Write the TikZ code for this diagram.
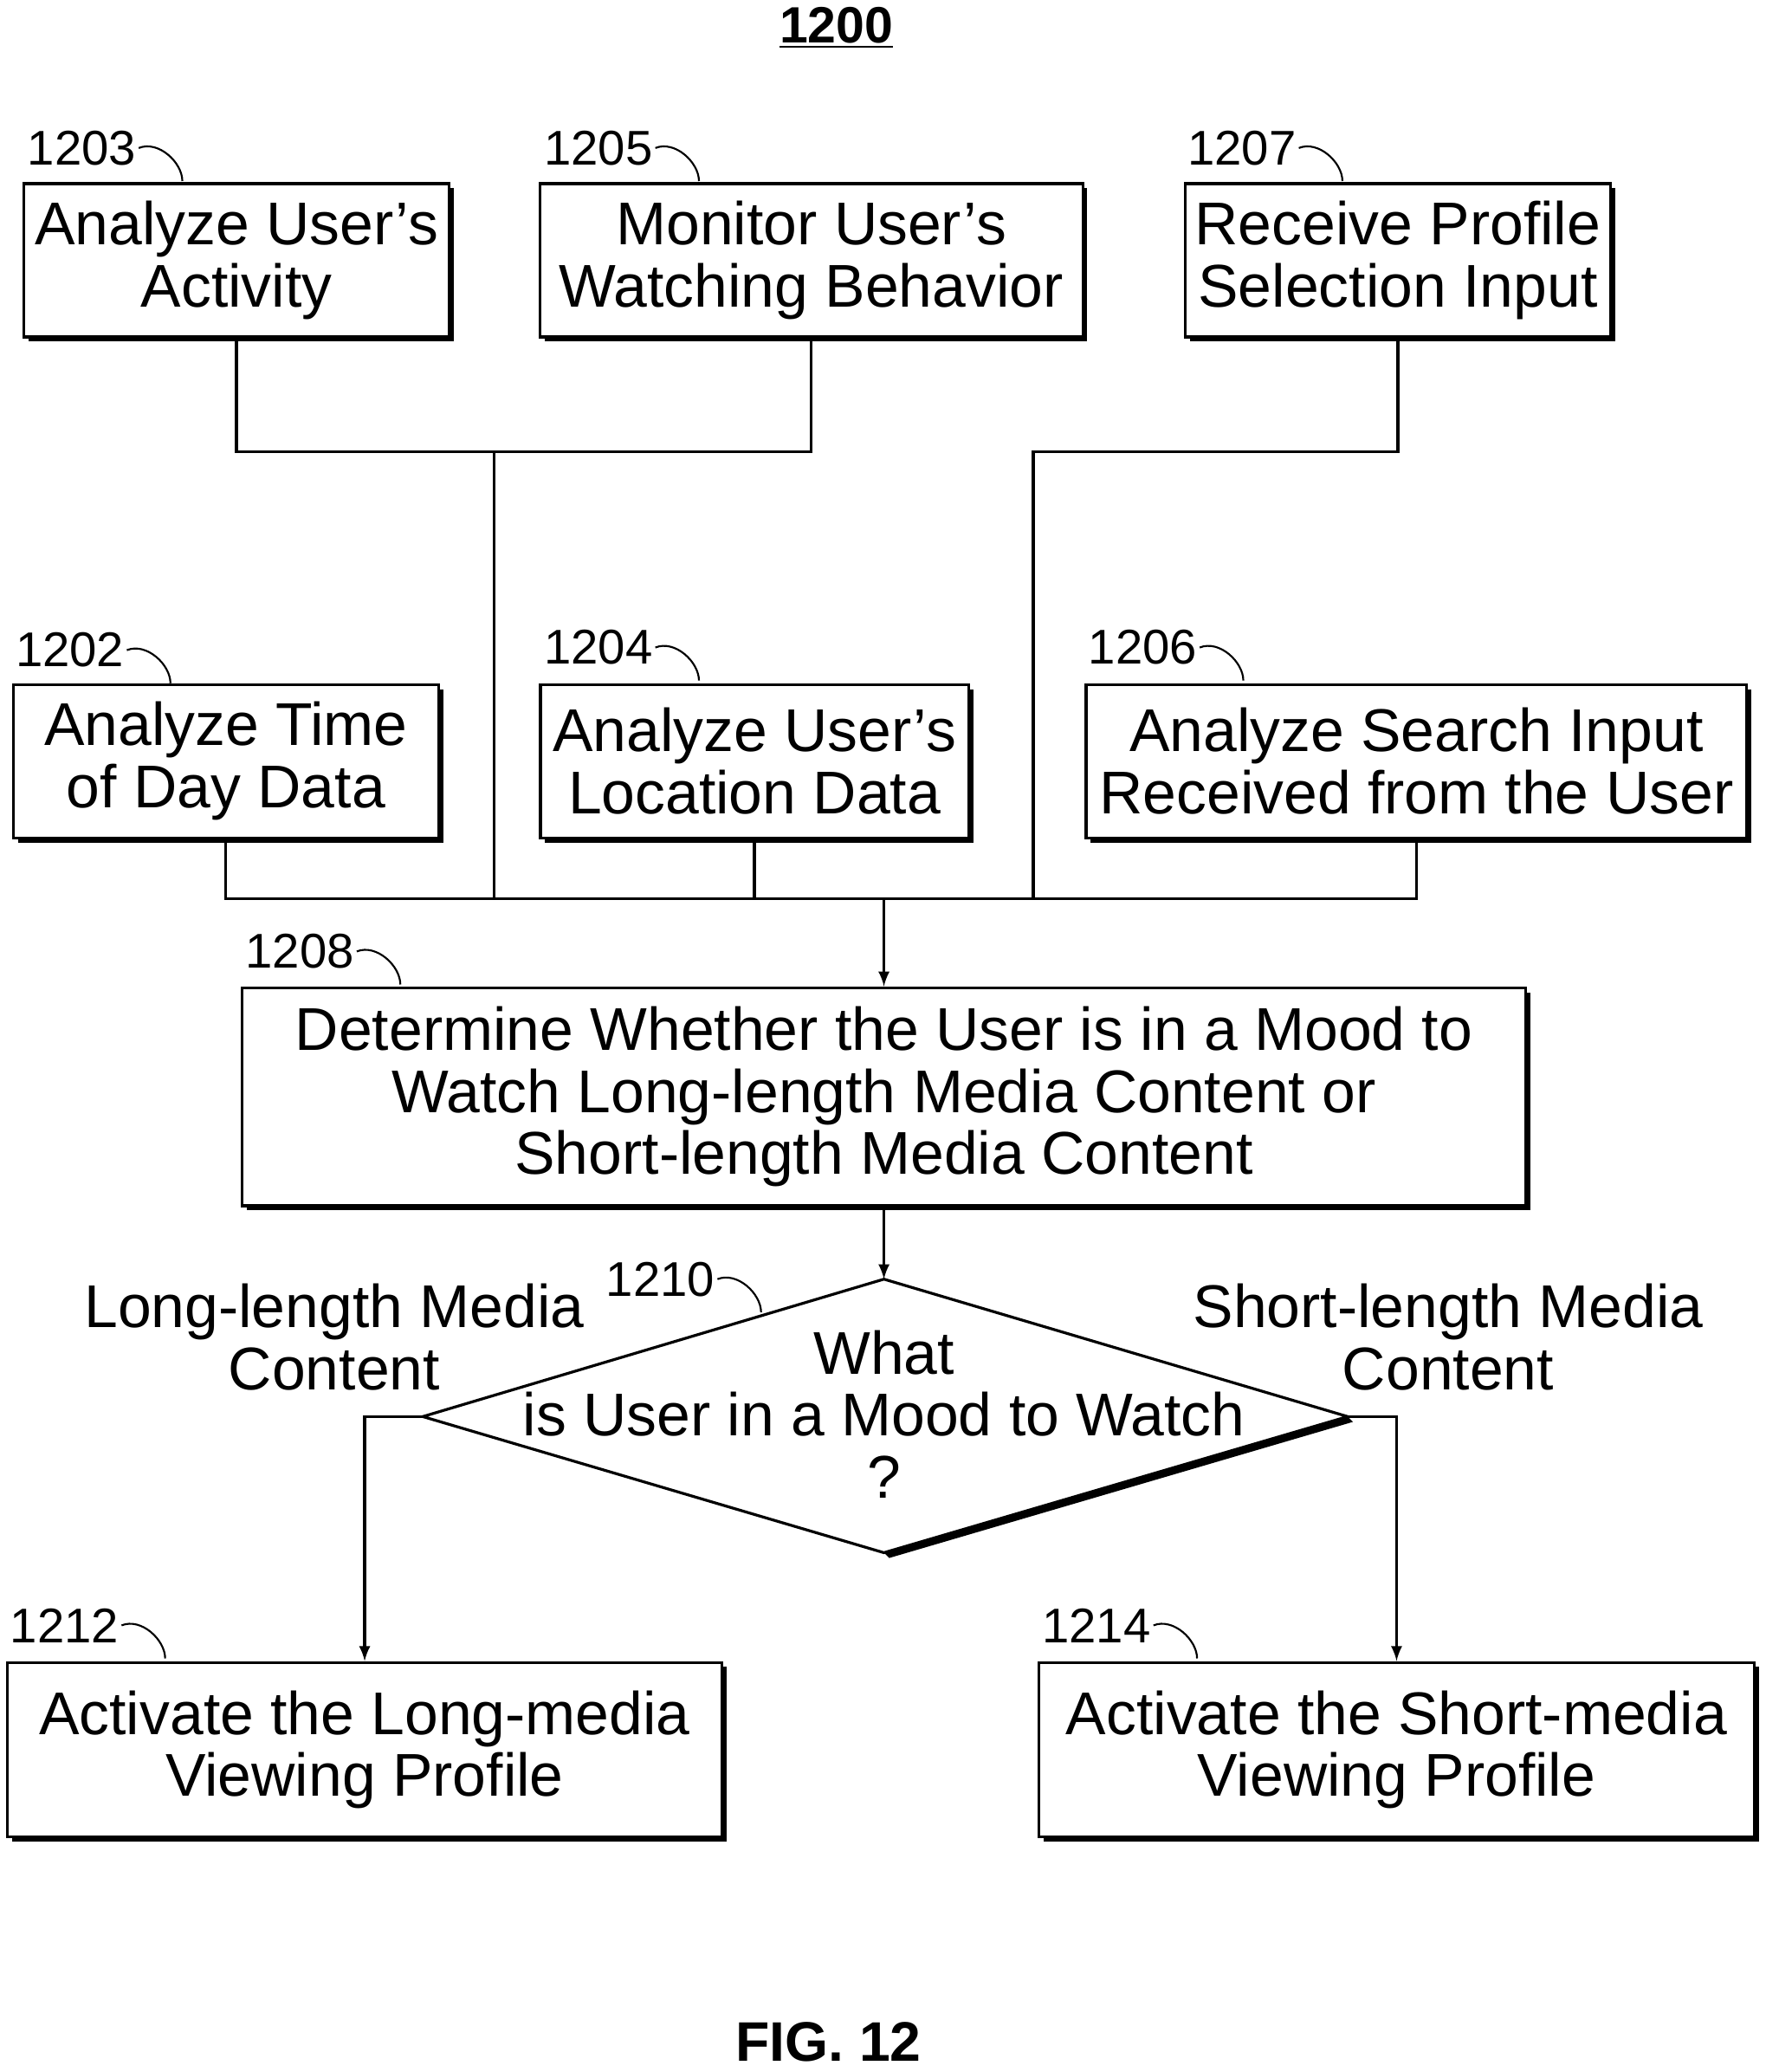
\documentclass[tikz,border=0pt]{standalone}
\usepackage{fontspec}
\setmainfont{Liberation Sans}
\usetikzlibrary{shadows}
\newcommand{\apos}{{\char39}}
\tikzset{
  stepbox/.style={draw,very thick,align=center,inner sep=0pt,font=\fontsize{26}{26.7}\selectfont,
    fill=white,drop shadow={shadow xshift=2pt,shadow yshift=-2pt,fill=black,opacity=1}},
  wire/.style={very thick},
  arr/.style={very thick,->,>=latex},
  num/.style={font=\fontsize{21}{21}\selectfont,anchor=east,inner sep=1pt}
}
\newcommand{\refnum}[3]{\node[num] (n#3) at (#1,#2) {#3};
  \draw[thick] (n#3.east) ++(0,0) .. controls ++(15,-6) and ++(0,-14) .. ++(33,25);}
\begin{document}
\begin{tikzpicture}[x=0.02cm,y=-0.02cm]
\useasboundingbox (0,0) rectangle (1336,1568);
\node[font=\bfseries\fontsize{22}{22}\selectfont] (title) at (633,21) {\underline{1200}};
\node[font=\bfseries\fontsize{24}{24}\selectfont] (fig) at (627,1545) {FIG. 12};

\node[stepbox,minimum width=6.44cm,minimum height=2.32cm] (s1203) at (179,197) {Analyze User\apos s\\Activity};
\node[stepbox,minimum width=8.22cm,minimum height=2.32cm] (s1205) at (614,197) {Monitor User\apos s\\Watching Behavior};
\node[stepbox,minimum width=6.44cm,minimum height=2.32cm] (s1207) at (1058,197) {Receive Profile\\Selection Input};
\node[stepbox,minimum width=6.44cm,minimum height=2.32cm] (s1202) at (171,576) {Analyze Time\\of Day Data};
\node[stepbox,minimum width=6.48cm,minimum height=2.32cm] (s1204) at (571,576) {Analyze User\apos s\\Location Data};
\node[stepbox,minimum width=10cm,minimum height=2.32cm] (s1206) at (1072,576) {Analyze Search Input\\Received from the User};
\node[stepbox,minimum width=19.44cm,minimum height=3.3cm] (s1208) at (669,830) {Determine Whether the User is in a Mood to\\Watch Long-length Media Content or\\Short-length Media Content};
\node[stepbox,minimum width=10.82cm,minimum height=2.64cm] (s1212) at (276,1324) {Activate the Long-media\\Viewing Profile};
\node[stepbox,minimum width=10.84cm,minimum height=2.64cm] (s1214) at (1057,1324) {Activate the Short-media\\Viewing Profile};

% decision
\coordinate (dt) at (669,968);
\coordinate (dl) at (320,1072);
\coordinate (dr) at (1020,1072);
\coordinate (db) at (669,1175);
\fill[black] ([shift={(4,4)}]dr) -- ([shift={(4,4)}]db) -- (db) -- (dr) -- cycle;
\draw[very thick,fill=white] (dt) -- (dr) -- (db) -- (dl) -- cycle;
\node[align=center,font=\fontsize{26}{26.7}\selectfont] (q) at (669,1070) {What\\is User in a Mood to Watch\\?};
\node[align=center,font=\fontsize{26}{26.7}\selectfont] (lLong) at (253,1012) {Long-length Media\\Content};
\node[align=center,font=\fontsize{26}{26.7}\selectfont] (lShort) at (1096,1012) {Short-length Media\\Content};

% reference numbers
\refnum{105}{112}{1203}
\refnum{496}{112}{1205}
\refnum{983}{112}{1207}
\refnum{96}{492}{1202}
\refnum{496}{490}{1204}
\refnum{908}{490}{1206}
\refnum{270}{720}{1208}
\refnum{543}{968}{1210}
\refnum{92}{1230}{1212}
\refnum{873}{1230}{1214}

% connectors
\coordinate (j1) at (374,342);
\coordinate (j2) at (782,342);
\coordinate (bus) at (669,680);
\draw[wire] (s1203.south) |- (j1) -| (s1205.south);
\draw[wire] (j1) -- (j1 |- bus);
\draw[wire] (s1207.south) |- (j2) -- (j2 |- bus);
\draw[wire] (s1202.south) |- (s1206.south |- bus) -- (s1206.south);
\draw[wire] (s1204.south) -- (s1204.south |- bus);
\draw[arr] (bus) -- (s1208.north);
\draw[arr] (s1208.south) -- (dt);
\draw[arr] (dl) -| (s1212.north);
\draw[arr] (dr) -| (s1214.north);
\end{tikzpicture}
\end{document}
